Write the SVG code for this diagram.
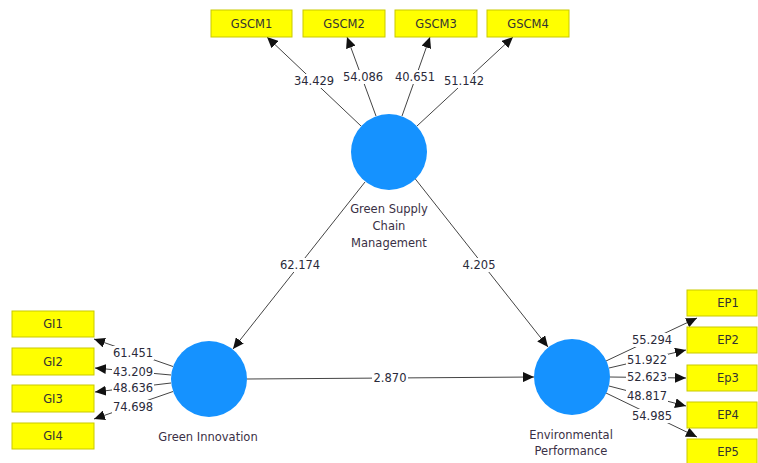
<svg xmlns="http://www.w3.org/2000/svg" width="758" height="463" viewBox="0 0 758 463">
<defs>
<marker id="ah" markerWidth="12" markerHeight="10" refX="11" refY="5" orient="auto" markerUnits="userSpaceOnUse">
<path d="M0,0 L11,5 L0,10 Z" fill="#111"/>
</marker>
<style>
.ind rect{fill:#FFFF00;stroke:#C9C900;stroke-width:1}
.ind text{font-family:"DejaVu Sans","Liberation Sans",sans-serif;font-size:11.5px;fill:#333;text-anchor:middle}
.lv circle{fill:#1592FF}
.lv text{font-family:"DejaVu Sans","Liberation Sans",sans-serif;font-size:11.5px;fill:#3a3045;text-anchor:middle}
.c line{stroke:#444;stroke-width:1;marker-end:url(#ah)}
.c rect{fill:#fff}
.c text{font-family:"DejaVu Sans","Liberation Sans",sans-serif;font-size:11.5px;fill:#2a2a3a;text-anchor:middle}
</style>
</defs>
<rect width="758" height="463" fill="#fff"/>
<g id="connectors" class="c">
<line x1="361" y1="126" x2="267" y2="37"/>
<line x1="376" y1="116" x2="347" y2="37"/>
<line x1="402" y1="116" x2="430" y2="37"/>
<line x1="417" y1="126" x2="513" y2="37"/>
<line x1="365" y1="182" x2="233" y2="349"/>
<line x1="413" y1="176" x2="548" y2="347"/>
<line x1="247" y1="379" x2="534" y2="377"/>
<line x1="173" y1="366.5" x2="94" y2="339"/>
<line x1="171" y1="375" x2="95" y2="368"/>
<line x1="171" y1="383" x2="95" y2="392"/>
<line x1="173" y1="391.5" x2="94" y2="419"/>
<line x1="606" y1="361" x2="697" y2="318"/>
<line x1="609" y1="368" x2="686" y2="350"/>
<line x1="610" y1="377" x2="686" y2="378"/>
<line x1="609" y1="386" x2="686" y2="406"/>
<line x1="606" y1="393" x2="697" y2="437"/>
<rect x="293" y="74" width="42" height="14"/><text x="314" y="85">34.429</text>
<rect x="342" y="70" width="42" height="14"/><text x="363" y="81">54.086</text>
<rect x="394" y="70" width="42" height="14"/><text x="415" y="81">40.651</text>
<rect x="443" y="74" width="42" height="14"/><text x="464" y="85">51.142</text>
<rect x="279" y="258" width="42" height="14"/><text x="300" y="269">62.174</text>
<rect x="461" y="258" width="36" height="14"/><text x="479" y="269">4.205</text>
<rect x="372" y="371" width="36" height="14"/><text x="390" y="382">2.870</text>
<rect x="112" y="346" width="42" height="14"/><text x="133" y="357">61.451</text>
<rect x="112" y="366" width="42" height="12"/><text x="133" y="376">43.209</text>
<rect x="112" y="382" width="42" height="12"/><text x="133" y="392">48.636</text>
<rect x="112" y="400" width="42" height="14"/><text x="133" y="411">74.698</text>
<rect x="631" y="333" width="42" height="14"/><text x="652" y="344">55.294</text>
<rect x="626" y="354" width="42" height="12"/><text x="647" y="364">51.922</text>
<rect x="626" y="371" width="42" height="12"/><text x="647" y="381">52.623</text>
<rect x="626" y="389" width="42" height="13"/><text x="647" y="400">48.817</text>
<rect x="631" y="409" width="42" height="14"/><text x="652" y="420">54.985</text>
</g>
<g id="GSCM" class="lv"><circle cx="389" cy="152" r="38"/><text x="389" y="213">Green Supply</text><text x="389" y="230">Chain</text><text x="389" y="247">Management</text></g>
<g id="GI" class="lv"><circle cx="209" cy="379" r="38"/><text x="208" y="441">Green Innovation</text></g>
<g id="EP" class="lv"><circle cx="572" cy="377" r="38"/><text x="571" y="439">Environmental</text><text x="571" y="455">Performance</text></g>
<g id="GSCM1" class="ind"><rect x="211" y="10" width="81" height="27"/><text x="251.5" y="28">GSCM1</text></g>
<g id="GSCM2" class="ind"><rect x="303" y="10" width="82" height="27"/><text x="344" y="28">GSCM2</text></g>
<g id="GSCM3" class="ind"><rect x="395" y="10" width="82" height="27"/><text x="436" y="28">GSCM3</text></g>
<g id="GSCM4" class="ind"><rect x="487" y="10" width="82" height="27"/><text x="528" y="28">GSCM4</text></g>
<g id="GI1" class="ind"><rect x="12" y="311" width="82" height="26"/><text x="53" y="328">GI1</text></g>
<g id="GI2" class="ind"><rect x="12" y="348" width="82" height="27"/><text x="53" y="366">GI2</text></g>
<g id="GI3" class="ind"><rect x="12" y="385" width="82" height="27"/><text x="53" y="403">GI3</text></g>
<g id="GI4" class="ind"><rect x="12" y="423" width="82" height="26"/><text x="53" y="440">GI4</text></g>
<g id="EP1" class="ind"><rect x="687" y="290" width="70" height="26"/><text x="728" y="307">EP1</text></g>
<g id="EP2" class="ind"><rect x="687" y="327" width="70" height="26"/><text x="728" y="344">EP2</text></g>
<g id="Ep3" class="ind"><rect x="687" y="365" width="70" height="26"/><text x="728" y="382">Ep3</text></g>
<g id="EP4" class="ind"><rect x="687" y="402" width="70" height="26"/><text x="728" y="419">EP4</text></g>
<g id="EP5" class="ind"><rect x="687" y="439" width="70" height="26"/><text x="728" y="456">EP5</text></g>
</svg>
